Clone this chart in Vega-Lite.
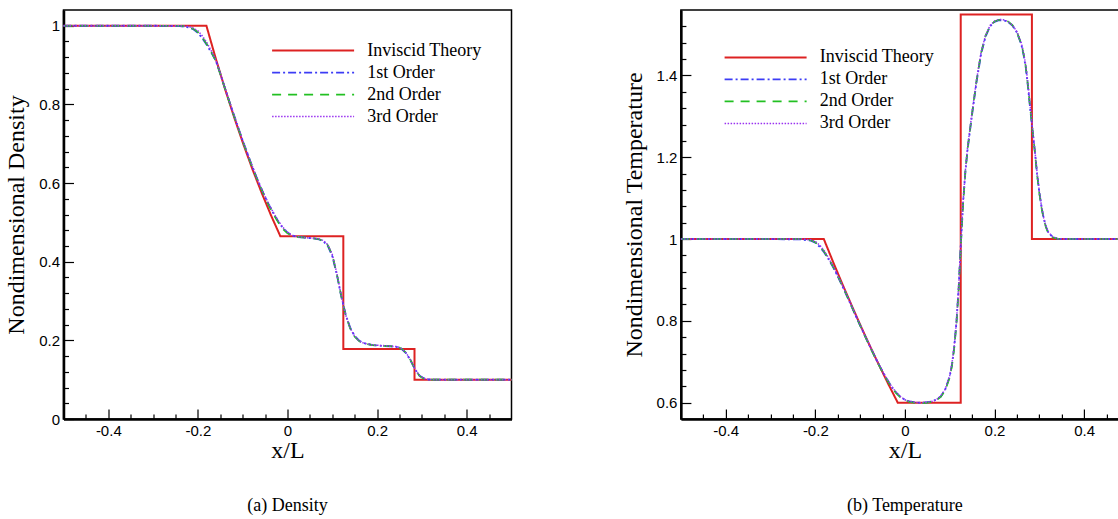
{
"$schema": "https://vega.github.io/schema/vega-lite/v6.json",
"padding": {"left": 3.5, "top": 9, "right": 0, "bottom": 0},
"bounds": "flush",
"spacing": 169.4,
"datasets": {
"density": [
{"series":"Inviscid Theory","x":-0.5,"y":1},{"series":"Inviscid Theory","x":-0.181,"y":1},{"series":"Inviscid Theory","x":-0.1604,"y":0.9177},{"series":"Inviscid Theory","x":-0.1398,"y":0.8404},{"series":"Inviscid Theory","x":-0.1191,"y":0.7674},{"series":"Inviscid Theory","x":-0.0985,"y":0.6986},{"series":"Inviscid Theory","x":-0.0779,"y":0.6341},{"series":"Inviscid Theory","x":-0.0572,"y":0.5738},{"series":"Inviscid Theory","x":-0.0366,"y":0.5174},{"series":"Inviscid Theory","x":-0.016,"y":0.4648},{"series":"Inviscid Theory","x":0.1246,"y":0.4648},{"series":"Inviscid Theory","x":0.1246,"y":0.178},{"series":"Inviscid Theory","x":0.2835,"y":0.178},{"series":"Inviscid Theory","x":0.2835,"y":0.1},{"series":"Inviscid Theory","x":0.5,"y":0.1},
{"series":"1st Order","x":-0.5,"y":1},{"series":"1st Order","x":-0.3,"y":1},{"series":"1st Order","x":-0.24,"y":0.999},{"series":"1st Order","x":-0.22,"y":0.996},{"series":"1st Order","x":-0.21,"y":0.991},{"series":"1st Order","x":-0.2,"y":0.982},{"series":"1st Order","x":-0.19,"y":0.968},{"series":"1st Order","x":-0.18,"y":0.951},{"series":"1st Order","x":-0.17,"y":0.932},{"series":"1st Order","x":-0.16,"y":0.911},{"series":"1st Order","x":-0.15,"y":0.878},{"series":"1st Order","x":-0.14,"y":0.843},{"series":"1st Order","x":-0.13,"y":0.808},{"series":"1st Order","x":-0.12,"y":0.774},{"series":"1st Order","x":-0.11,"y":0.741},{"series":"1st Order","x":-0.1,"y":0.708},{"series":"1st Order","x":-0.09,"y":0.677},{"series":"1st Order","x":-0.08,"y":0.646},{"series":"1st Order","x":-0.07,"y":0.617},{"series":"1st Order","x":-0.06,"y":0.59},{"series":"1st Order","x":-0.05,"y":0.564},{"series":"1st Order","x":-0.04,"y":0.541},{"series":"1st Order","x":-0.03,"y":0.52},{"series":"1st Order","x":-0.02,"y":0.501},{"series":"1st Order","x":-0.01,"y":0.485},{"series":"1st Order","x":0,"y":0.474},{"series":"1st Order","x":0.01,"y":0.467},{"series":"1st Order","x":0.02,"y":0.463},{"series":"1st Order","x":0.04,"y":0.461},{"series":"1st Order","x":0.06,"y":0.459},{"series":"1st Order","x":0.07,"y":0.457},{"series":"1st Order","x":0.08,"y":0.452},{"series":"1st Order","x":0.09,"y":0.44},{"series":"1st Order","x":0.1,"y":0.414},{"series":"1st Order","x":0.11,"y":0.368},{"series":"1st Order","x":0.12,"y":0.312},{"series":"1st Order","x":0.13,"y":0.265},{"series":"1st Order","x":0.14,"y":0.232},{"series":"1st Order","x":0.15,"y":0.211},{"series":"1st Order","x":0.16,"y":0.199},{"series":"1st Order","x":0.17,"y":0.193},{"series":"1st Order","x":0.19,"y":0.188},{"series":"1st Order","x":0.21,"y":0.186},{"series":"1st Order","x":0.23,"y":0.185},{"series":"1st Order","x":0.245,"y":0.183},{"series":"1st Order","x":0.255,"y":0.178},{"series":"1st Order","x":0.265,"y":0.167},{"series":"1st Order","x":0.275,"y":0.148},{"series":"1st Order","x":0.285,"y":0.126},{"series":"1st Order","x":0.295,"y":0.11},{"series":"1st Order","x":0.305,"y":0.103},{"series":"1st Order","x":0.315,"y":0.1005},{"series":"1st Order","x":0.33,"y":0.1},{"series":"1st Order","x":0.5,"y":0.1},
{"series":"2nd Order","x":-0.5,"y":1},{"series":"2nd Order","x":-0.3,"y":1},{"series":"2nd Order","x":-0.24,"y":1},{"series":"2nd Order","x":-0.22,"y":0.997},{"series":"2nd Order","x":-0.21,"y":0.992},{"series":"2nd Order","x":-0.2,"y":0.984},{"series":"2nd Order","x":-0.19,"y":0.97},{"series":"2nd Order","x":-0.18,"y":0.953},{"series":"2nd Order","x":-0.17,"y":0.933},{"series":"2nd Order","x":-0.16,"y":0.911},{"series":"2nd Order","x":-0.15,"y":0.877},{"series":"2nd Order","x":-0.14,"y":0.842},{"series":"2nd Order","x":-0.13,"y":0.807},{"series":"2nd Order","x":-0.12,"y":0.773},{"series":"2nd Order","x":-0.11,"y":0.74},{"series":"2nd Order","x":-0.1,"y":0.707},{"series":"2nd Order","x":-0.09,"y":0.676},{"series":"2nd Order","x":-0.08,"y":0.645},{"series":"2nd Order","x":-0.07,"y":0.616},{"series":"2nd Order","x":-0.06,"y":0.589},{"series":"2nd Order","x":-0.05,"y":0.563},{"series":"2nd Order","x":-0.04,"y":0.539},{"series":"2nd Order","x":-0.03,"y":0.518},{"series":"2nd Order","x":-0.02,"y":0.499},{"series":"2nd Order","x":-0.01,"y":0.483},{"series":"2nd Order","x":0,"y":0.472},{"series":"2nd Order","x":0.01,"y":0.466},{"series":"2nd Order","x":0.02,"y":0.463},{"series":"2nd Order","x":0.04,"y":0.461},{"series":"2nd Order","x":0.06,"y":0.459},{"series":"2nd Order","x":0.07,"y":0.457},{"series":"2nd Order","x":0.08,"y":0.453},{"series":"2nd Order","x":0.09,"y":0.442},{"series":"2nd Order","x":0.1,"y":0.417},{"series":"2nd Order","x":0.11,"y":0.37},{"series":"2nd Order","x":0.12,"y":0.312},{"series":"2nd Order","x":0.13,"y":0.263},{"series":"2nd Order","x":0.14,"y":0.23},{"series":"2nd Order","x":0.15,"y":0.209},{"series":"2nd Order","x":0.16,"y":0.198},{"series":"2nd Order","x":0.17,"y":0.192},{"series":"2nd Order","x":0.19,"y":0.188},{"series":"2nd Order","x":0.21,"y":0.186},{"series":"2nd Order","x":0.23,"y":0.185},{"series":"2nd Order","x":0.245,"y":0.183},{"series":"2nd Order","x":0.255,"y":0.179},{"series":"2nd Order","x":0.265,"y":0.168},{"series":"2nd Order","x":0.275,"y":0.149},{"series":"2nd Order","x":0.285,"y":0.125},{"series":"2nd Order","x":0.295,"y":0.109},{"series":"2nd Order","x":0.305,"y":0.102},{"series":"2nd Order","x":0.315,"y":0.1003},{"series":"2nd Order","x":0.33,"y":0.1},{"series":"2nd Order","x":0.5,"y":0.1},
{"series":"3rd Order","x":-0.5,"y":1},{"series":"3rd Order","x":-0.3,"y":1},{"series":"3rd Order","x":-0.24,"y":1},{"series":"3rd Order","x":-0.22,"y":0.998},{"series":"3rd Order","x":-0.21,"y":0.994},{"series":"3rd Order","x":-0.2,"y":0.987},{"series":"3rd Order","x":-0.19,"y":0.974},{"series":"3rd Order","x":-0.18,"y":0.957},{"series":"3rd Order","x":-0.17,"y":0.936},{"series":"3rd Order","x":-0.16,"y":0.913},{"series":"3rd Order","x":-0.15,"y":0.879},{"series":"3rd Order","x":-0.14,"y":0.844},{"series":"3rd Order","x":-0.13,"y":0.809},{"series":"3rd Order","x":-0.12,"y":0.775},{"series":"3rd Order","x":-0.11,"y":0.742},{"series":"3rd Order","x":-0.1,"y":0.709},{"series":"3rd Order","x":-0.09,"y":0.678},{"series":"3rd Order","x":-0.08,"y":0.647},{"series":"3rd Order","x":-0.07,"y":0.618},{"series":"3rd Order","x":-0.06,"y":0.591},{"series":"3rd Order","x":-0.05,"y":0.566},{"series":"3rd Order","x":-0.04,"y":0.543},{"series":"3rd Order","x":-0.03,"y":0.522},{"series":"3rd Order","x":-0.02,"y":0.503},{"series":"3rd Order","x":-0.01,"y":0.487},{"series":"3rd Order","x":0,"y":0.475},{"series":"3rd Order","x":0.01,"y":0.467},{"series":"3rd Order","x":0.02,"y":0.464},{"series":"3rd Order","x":0.04,"y":0.461},{"series":"3rd Order","x":0.06,"y":0.459},{"series":"3rd Order","x":0.07,"y":0.458},{"series":"3rd Order","x":0.08,"y":0.454},{"series":"3rd Order","x":0.09,"y":0.443},{"series":"3rd Order","x":0.1,"y":0.418},{"series":"3rd Order","x":0.11,"y":0.371},{"series":"3rd Order","x":0.12,"y":0.313},{"series":"3rd Order","x":0.13,"y":0.264},{"series":"3rd Order","x":0.14,"y":0.231},{"series":"3rd Order","x":0.15,"y":0.21},{"series":"3rd Order","x":0.16,"y":0.198},{"series":"3rd Order","x":0.17,"y":0.193},{"series":"3rd Order","x":0.19,"y":0.188},{"series":"3rd Order","x":0.21,"y":0.187},{"series":"3rd Order","x":0.23,"y":0.185},{"series":"3rd Order","x":0.245,"y":0.184},{"series":"3rd Order","x":0.255,"y":0.179},{"series":"3rd Order","x":0.265,"y":0.168},{"series":"3rd Order","x":0.275,"y":0.15},{"series":"3rd Order","x":0.285,"y":0.126},{"series":"3rd Order","x":0.295,"y":0.11},{"series":"3rd Order","x":0.305,"y":0.103},{"series":"3rd Order","x":0.315,"y":0.1005},{"series":"3rd Order","x":0.33,"y":0.1},{"series":"3rd Order","x":0.5,"y":0.1}
],
"temperature": [
{"series":"Inviscid Theory","x":-0.5,"y":1},{"series":"Inviscid Theory","x":-0.181,"y":1},{"series":"Inviscid Theory","x":-0.1604,"y":0.9444},{"series":"Inviscid Theory","x":-0.1398,"y":0.8905},{"series":"Inviscid Theory","x":-0.1191,"y":0.8382},{"series":"Inviscid Theory","x":-0.0985,"y":0.7873},{"series":"Inviscid Theory","x":-0.0779,"y":0.7381},{"series":"Inviscid Theory","x":-0.0572,"y":0.6905},{"series":"Inviscid Theory","x":-0.0366,"y":0.6445},{"series":"Inviscid Theory","x":-0.016,"y":0.6},{"series":"Inviscid Theory","x":0.1246,"y":0.6},{"series":"Inviscid Theory","x":0.1246,"y":1.549},{"series":"Inviscid Theory","x":0.2835,"y":1.549},{"series":"Inviscid Theory","x":0.2835,"y":1},{"series":"Inviscid Theory","x":0.5,"y":1},
{"series":"1st Order","x":-0.5,"y":1},{"series":"1st Order","x":-0.3,"y":1},{"series":"1st Order","x":-0.23,"y":0.999},{"series":"1st Order","x":-0.21,"y":0.996},{"series":"1st Order","x":-0.2,"y":0.991},{"series":"1st Order","x":-0.19,"y":0.981},{"series":"1st Order","x":-0.18,"y":0.967},{"series":"1st Order","x":-0.17,"y":0.95},{"series":"1st Order","x":-0.16,"y":0.931},{"series":"1st Order","x":-0.15,"y":0.909},{"series":"1st Order","x":-0.14,"y":0.886},{"series":"1st Order","x":-0.13,"y":0.862},{"series":"1st Order","x":-0.12,"y":0.838},{"series":"1st Order","x":-0.11,"y":0.813},{"series":"1st Order","x":-0.1,"y":0.789},{"series":"1st Order","x":-0.09,"y":0.765},{"series":"1st Order","x":-0.08,"y":0.742},{"series":"1st Order","x":-0.07,"y":0.719},{"series":"1st Order","x":-0.06,"y":0.697},{"series":"1st Order","x":-0.05,"y":0.676},{"series":"1st Order","x":-0.04,"y":0.657},{"series":"1st Order","x":-0.03,"y":0.639},{"series":"1st Order","x":-0.02,"y":0.625},{"series":"1st Order","x":-0.01,"y":0.614},{"series":"1st Order","x":0,"y":0.607},{"series":"1st Order","x":0.01,"y":0.603},{"series":"1st Order","x":0.02,"y":0.601},{"series":"1st Order","x":0.03,"y":0.6},{"series":"1st Order","x":0.04,"y":0.6},{"series":"1st Order","x":0.05,"y":0.601},{"series":"1st Order","x":0.06,"y":0.603},{"series":"1st Order","x":0.07,"y":0.607},{"series":"1st Order","x":0.08,"y":0.615},{"series":"1st Order","x":0.09,"y":0.632},{"series":"1st Order","x":0.1,"y":0.664},{"series":"1st Order","x":0.105,"y":0.692},{"series":"1st Order","x":0.11,"y":0.735},{"series":"1st Order","x":0.115,"y":0.795},{"series":"1st Order","x":0.12,"y":0.88},{"series":"1st Order","x":0.125,"y":0.99},{"series":"1st Order","x":0.13,"y":1.09},{"series":"1st Order","x":0.135,"y":1.165},{"series":"1st Order","x":0.14,"y":1.22},{"series":"1st Order","x":0.15,"y":1.305},{"series":"1st Order","x":0.16,"y":1.385},{"series":"1st Order","x":0.17,"y":1.452},{"series":"1st Order","x":0.18,"y":1.495},{"series":"1st Order","x":0.19,"y":1.52},{"series":"1st Order","x":0.2,"y":1.531},{"series":"1st Order","x":0.21,"y":1.535},{"series":"1st Order","x":0.22,"y":1.535},{"series":"1st Order","x":0.23,"y":1.531},{"series":"1st Order","x":0.24,"y":1.522},{"series":"1st Order","x":0.25,"y":1.505},{"series":"1st Order","x":0.26,"y":1.475},{"series":"1st Order","x":0.265,"y":1.45},{"series":"1st Order","x":0.27,"y":1.418},{"series":"1st Order","x":0.275,"y":1.37},{"series":"1st Order","x":0.28,"y":1.315},{"series":"1st Order","x":0.285,"y":1.265},{"series":"1st Order","x":0.29,"y":1.215},{"series":"1st Order","x":0.295,"y":1.16},{"series":"1st Order","x":0.3,"y":1.115},{"series":"1st Order","x":0.305,"y":1.078},{"series":"1st Order","x":0.31,"y":1.05},{"series":"1st Order","x":0.315,"y":1.03},{"series":"1st Order","x":0.32,"y":1.016},{"series":"1st Order","x":0.33,"y":1.005},{"series":"1st Order","x":0.34,"y":1.001},{"series":"1st Order","x":0.36,"y":1},{"series":"1st Order","x":0.5,"y":1},
{"series":"2nd Order","x":-0.5,"y":1},{"series":"2nd Order","x":-0.3,"y":1},{"series":"2nd Order","x":-0.23,"y":1},{"series":"2nd Order","x":-0.21,"y":0.997},{"series":"2nd Order","x":-0.2,"y":0.992},{"series":"2nd Order","x":-0.19,"y":0.983},{"series":"2nd Order","x":-0.18,"y":0.969},{"series":"2nd Order","x":-0.17,"y":0.951},{"series":"2nd Order","x":-0.16,"y":0.932},{"series":"2nd Order","x":-0.15,"y":0.91},{"series":"2nd Order","x":-0.14,"y":0.887},{"series":"2nd Order","x":-0.13,"y":0.863},{"series":"2nd Order","x":-0.12,"y":0.838},{"series":"2nd Order","x":-0.11,"y":0.813},{"series":"2nd Order","x":-0.1,"y":0.789},{"series":"2nd Order","x":-0.09,"y":0.765},{"series":"2nd Order","x":-0.08,"y":0.741},{"series":"2nd Order","x":-0.07,"y":0.718},{"series":"2nd Order","x":-0.06,"y":0.696},{"series":"2nd Order","x":-0.05,"y":0.675},{"series":"2nd Order","x":-0.04,"y":0.656},{"series":"2nd Order","x":-0.03,"y":0.638},{"series":"2nd Order","x":-0.02,"y":0.624},{"series":"2nd Order","x":-0.01,"y":0.613},{"series":"2nd Order","x":0,"y":0.606},{"series":"2nd Order","x":0.01,"y":0.602},{"series":"2nd Order","x":0.02,"y":0.6},{"series":"2nd Order","x":0.03,"y":0.599},{"series":"2nd Order","x":0.04,"y":0.599},{"series":"2nd Order","x":0.05,"y":0.6},{"series":"2nd Order","x":0.06,"y":0.602},{"series":"2nd Order","x":0.07,"y":0.606},{"series":"2nd Order","x":0.08,"y":0.614},{"series":"2nd Order","x":0.09,"y":0.63},{"series":"2nd Order","x":0.1,"y":0.662},{"series":"2nd Order","x":0.105,"y":0.69},{"series":"2nd Order","x":0.11,"y":0.733},{"series":"2nd Order","x":0.115,"y":0.792},{"series":"2nd Order","x":0.12,"y":0.878},{"series":"2nd Order","x":0.125,"y":0.988},{"series":"2nd Order","x":0.13,"y":1.088},{"series":"2nd Order","x":0.135,"y":1.165},{"series":"2nd Order","x":0.14,"y":1.222},{"series":"2nd Order","x":0.15,"y":1.308},{"series":"2nd Order","x":0.16,"y":1.388},{"series":"2nd Order","x":0.17,"y":1.455},{"series":"2nd Order","x":0.18,"y":1.497},{"series":"2nd Order","x":0.19,"y":1.521},{"series":"2nd Order","x":0.2,"y":1.532},{"series":"2nd Order","x":0.21,"y":1.536},{"series":"2nd Order","x":0.22,"y":1.536},{"series":"2nd Order","x":0.23,"y":1.532},{"series":"2nd Order","x":0.24,"y":1.523},{"series":"2nd Order","x":0.25,"y":1.506},{"series":"2nd Order","x":0.26,"y":1.477},{"series":"2nd Order","x":0.265,"y":1.452},{"series":"2nd Order","x":0.27,"y":1.42},{"series":"2nd Order","x":0.275,"y":1.372},{"series":"2nd Order","x":0.28,"y":1.317},{"series":"2nd Order","x":0.285,"y":1.266},{"series":"2nd Order","x":0.29,"y":1.214},{"series":"2nd Order","x":0.295,"y":1.158},{"series":"2nd Order","x":0.3,"y":1.112},{"series":"2nd Order","x":0.305,"y":1.076},{"series":"2nd Order","x":0.31,"y":1.048},{"series":"2nd Order","x":0.315,"y":1.028},{"series":"2nd Order","x":0.32,"y":1.015},{"series":"2nd Order","x":0.33,"y":1.004},{"series":"2nd Order","x":0.34,"y":1.001},{"series":"2nd Order","x":0.36,"y":1},{"series":"2nd Order","x":0.5,"y":1},
{"series":"3rd Order","x":-0.5,"y":1},{"series":"3rd Order","x":-0.3,"y":1},{"series":"3rd Order","x":-0.23,"y":1},{"series":"3rd Order","x":-0.21,"y":0.998},{"series":"3rd Order","x":-0.2,"y":0.994},{"series":"3rd Order","x":-0.19,"y":0.985},{"series":"3rd Order","x":-0.18,"y":0.971},{"series":"3rd Order","x":-0.17,"y":0.953},{"series":"3rd Order","x":-0.16,"y":0.933},{"series":"3rd Order","x":-0.15,"y":0.911},{"series":"3rd Order","x":-0.14,"y":0.888},{"series":"3rd Order","x":-0.13,"y":0.864},{"series":"3rd Order","x":-0.12,"y":0.839},{"series":"3rd Order","x":-0.11,"y":0.814},{"series":"3rd Order","x":-0.1,"y":0.79},{"series":"3rd Order","x":-0.09,"y":0.766},{"series":"3rd Order","x":-0.08,"y":0.743},{"series":"3rd Order","x":-0.07,"y":0.72},{"series":"3rd Order","x":-0.06,"y":0.698},{"series":"3rd Order","x":-0.05,"y":0.677},{"series":"3rd Order","x":-0.04,"y":0.658},{"series":"3rd Order","x":-0.03,"y":0.64},{"series":"3rd Order","x":-0.02,"y":0.626},{"series":"3rd Order","x":-0.01,"y":0.615},{"series":"3rd Order","x":0,"y":0.607},{"series":"3rd Order","x":0.01,"y":0.603},{"series":"3rd Order","x":0.02,"y":0.601},{"series":"3rd Order","x":0.03,"y":0.6},{"series":"3rd Order","x":0.04,"y":0.6},{"series":"3rd Order","x":0.05,"y":0.601},{"series":"3rd Order","x":0.06,"y":0.603},{"series":"3rd Order","x":0.07,"y":0.607},{"series":"3rd Order","x":0.08,"y":0.616},{"series":"3rd Order","x":0.09,"y":0.633},{"series":"3rd Order","x":0.1,"y":0.666},{"series":"3rd Order","x":0.105,"y":0.695},{"series":"3rd Order","x":0.11,"y":0.738},{"series":"3rd Order","x":0.115,"y":0.798},{"series":"3rd Order","x":0.12,"y":0.884},{"series":"3rd Order","x":0.125,"y":0.994},{"series":"3rd Order","x":0.13,"y":1.093},{"series":"3rd Order","x":0.135,"y":1.168},{"series":"3rd Order","x":0.14,"y":1.225},{"series":"3rd Order","x":0.15,"y":1.31},{"series":"3rd Order","x":0.16,"y":1.39},{"series":"3rd Order","x":0.17,"y":1.456},{"series":"3rd Order","x":0.18,"y":1.498},{"series":"3rd Order","x":0.19,"y":1.522},{"series":"3rd Order","x":0.2,"y":1.533},{"series":"3rd Order","x":0.21,"y":1.537},{"series":"3rd Order","x":0.22,"y":1.536},{"series":"3rd Order","x":0.23,"y":1.532},{"series":"3rd Order","x":0.24,"y":1.523},{"series":"3rd Order","x":0.25,"y":1.507},{"series":"3rd Order","x":0.26,"y":1.479},{"series":"3rd Order","x":0.265,"y":1.455},{"series":"3rd Order","x":0.27,"y":1.424},{"series":"3rd Order","x":0.275,"y":1.377},{"series":"3rd Order","x":0.28,"y":1.322},{"series":"3rd Order","x":0.285,"y":1.27},{"series":"3rd Order","x":0.29,"y":1.218},{"series":"3rd Order","x":0.295,"y":1.163},{"series":"3rd Order","x":0.3,"y":1.117},{"series":"3rd Order","x":0.305,"y":1.08},{"series":"3rd Order","x":0.31,"y":1.051},{"series":"3rd Order","x":0.315,"y":1.031},{"series":"3rd Order","x":0.32,"y":1.017},{"series":"3rd Order","x":0.33,"y":1.006},{"series":"3rd Order","x":0.34,"y":1.001},{"series":"3rd Order","x":0.36,"y":1},{"series":"3rd Order","x":0.5,"y":1}
]
},
"hconcat": [
{
"width": 448, "height": 409,
"data": {"name": "density"},
"title": {"text": "(a)  Density", "orient": "bottom", "anchor": "middle", "offset": 35},
"resolve": {"axis": {"x": "independent", "y": "independent"}},
"layer": [
{
"mark": {"type": "line", "opacity": 0},
"encoding": {
"x": {"field": "x", "type": "quantitative", "scale": {"domain": [-0.5, 0.5], "nice": false, "zero": false},
"axis": {"orient": "bottom", "values": [-0.45,-0.35,-0.3,-0.25,-0.15,-0.1,-0.05,0.05,0.1,0.15,0.25,0.3,0.35,0.45], "labels": false, "domain": false, "title": null, "tickSize": -5}},
"y": {"field": "y", "type": "quantitative", "scale": {"domain": [0, 1.04], "nice": false, "zero": false},
"axis": {"orient": "left", "values": [0.04,0.08,0.12,0.16,0.24,0.28,0.32,0.36,0.44,0.48,0.52,0.56,0.64,0.68,0.72,0.76,0.84,0.88,0.92,0.96], "labels": false, "domain": false, "title": null, "tickSize": -5}}
}
},
{
"mark": {"type": "line"},
"encoding": {
"x": {"field": "x", "type": "quantitative", "scale": {"domain": [-0.5, 0.5], "nice": false, "zero": false},
"axis": {"orient": "bottom", "values": [-0.4,-0.2,0,0.2,0.4], "labelExpr": "'' + datum.value", "title": "x/L", "tickSize": -10, "labelPadding": 14, "titlePadding": 0}},
"y": {"field": "y", "type": "quantitative", "scale": {"domain": [0, 1.04], "nice": false, "zero": false},
"axis": {"orient": "left", "values": [0,0.2,0.4,0.6,0.8,1], "labelExpr": "'' + datum.value", "title": "Nondimensional Density", "tickSize": -10, "labelPadding": 14, "titlePadding": 10}},
"color": {"field": "series", "type": "nominal",
"scale": {"domain": ["Inviscid Theory","1st Order","2nd Order","3rd Order"], "range": ["#dd2222","#3c3cf5","#22c022","#9a32f0"]},
"legend": {"orient": "none", "legendX": 208.6, "legendY": 29.6, "title": null, "symbolType": "M-4.1,0H4.1", "symbolSize": 400, "symbolStrokeWidth": 1.5, "symbolOffset": 30, "labelOffset": 43.1, "labelFont": "Liberation Serif", "labelFontSize": 18, "labelColor": "black", "rowPadding": 2, "padding": 0}},
"strokeDash": {"field": "series", "type": "nominal",
"scale": {"domain": ["Inviscid Theory","1st Order","2nd Order","3rd Order"], "range": [[1,0],[8,3,2,3],[9,7],[1.5,1.5]]},
"legend": {"orient": "none", "legendX": 208.6, "legendY": 29.6, "title": null, "symbolType": "M-4.1,0H4.1", "symbolSize": 400, "symbolStrokeWidth": 1.5, "symbolOffset": 30, "labelOffset": 43.1, "labelFont": "Liberation Serif", "labelFontSize": 18, "labelColor": "black", "rowPadding": 2, "padding": 0}},
"strokeWidth": {"field": "series", "type": "nominal", "scale": {"domain": ["Inviscid Theory","1st Order","2nd Order","3rd Order"], "range": [2,1.5,1.5,1.5]}, "legend": null},
"order": {"value": null}
}
}
]
},
{
"width": 448, "height": 409,
"data": {"name": "temperature"},
"title": {"text": "(b)  Temperature", "orient": "bottom", "anchor": "middle", "offset": 35},
"resolve": {"axis": {"x": "independent", "y": "independent"}},
"layer": [
{
"mark": {"type": "line", "opacity": 0},
"encoding": {
"x": {"field": "x", "type": "quantitative", "scale": {"domain": [-0.5, 0.5], "nice": false, "zero": false},
"axis": {"orient": "bottom", "values": [-0.45,-0.35,-0.3,-0.25,-0.15,-0.1,-0.05,0.05,0.1,0.15,0.25,0.3,0.35,0.45], "labels": false, "domain": false, "title": null, "tickSize": -5}},
"y": {"field": "y", "type": "quantitative", "scale": {"domain": [0.56, 1.56], "nice": false, "zero": false},
"axis": {"orient": "left", "values": [0.64,0.68,0.72,0.76,0.84,0.88,0.92,0.96,1.04,1.08,1.12,1.16,1.24,1.28,1.32,1.36,1.44,1.48,1.52], "labels": false, "domain": false, "title": null, "tickSize": -5}}
}
},
{
"mark": {"type": "line"},
"encoding": {
"x": {"field": "x", "type": "quantitative", "scale": {"domain": [-0.5, 0.5], "nice": false, "zero": false},
"axis": {"orient": "bottom", "values": [-0.4,-0.2,0,0.2,0.4], "labelExpr": "'' + datum.value", "title": "x/L", "tickSize": -10, "labelPadding": 14, "titlePadding": 0}},
"y": {"field": "y", "type": "quantitative", "scale": {"domain": [0.56, 1.56], "nice": false, "zero": false},
"axis": {"orient": "left", "values": [0.6,0.8,1,1.2,1.4], "labelExpr": "'' + datum.value", "title": "Nondimensional Temperature", "tickSize": -10, "labelPadding": 14, "titlePadding": 10}},
"color": {"field": "series", "type": "nominal",
"scale": {"domain": ["Inviscid Theory","1st Order","2nd Order","3rd Order"], "range": ["#dd2222","#3c3cf5","#22c022","#9a32f0"]},
"legend": {"orient": "none", "legendX": 43.7, "legendY": 36.4, "title": null, "symbolType": "M-4.1,0H4.1", "symbolSize": 400, "symbolStrokeWidth": 1.5, "symbolOffset": 30, "labelOffset": 43.1, "labelFont": "Liberation Serif", "labelFontSize": 18, "labelColor": "black", "rowPadding": 2, "padding": 0}},
"strokeDash": {"field": "series", "type": "nominal",
"scale": {"domain": ["Inviscid Theory","1st Order","2nd Order","3rd Order"], "range": [[1,0],[8,3,2,3],[9,7],[1.5,1.5]]},
"legend": {"orient": "none", "legendX": 43.7, "legendY": 36.4, "title": null, "symbolType": "M-4.1,0H4.1", "symbolSize": 400, "symbolStrokeWidth": 1.5, "symbolOffset": 30, "labelOffset": 43.1, "labelFont": "Liberation Serif", "labelFontSize": 18, "labelColor": "black", "rowPadding": 2, "padding": 0}},
"strokeWidth": {"field": "series", "type": "nominal", "scale": {"domain": ["Inviscid Theory","1st Order","2nd Order","3rd Order"], "range": [2,1.5,1.5,1.5]}, "legend": null},
"order": {"value": null}
}
}
]
}
],
"resolve": {"scale": {"color": "independent", "strokeDash": "independent", "strokeWidth": "independent"}},
"config": {
"view": {"stroke": "black", "strokeWidth": 1.5},
"axis": {"grid": false, "domainColor": "black", "domainWidth": 2.5, "tickColor": "black", "tickWidth": 1.2, "labelFont": "Liberation Sans", "labelFontSize": 15, "labelColor": "black", "titleFont": "Liberation Serif", "titleFontSize": 24, "titleFontWeight": "normal", "titleColor": "black"},
"title": {"font": "Liberation Serif", "fontSize": 18, "fontWeight": "normal", "color": "black"}
}
}
